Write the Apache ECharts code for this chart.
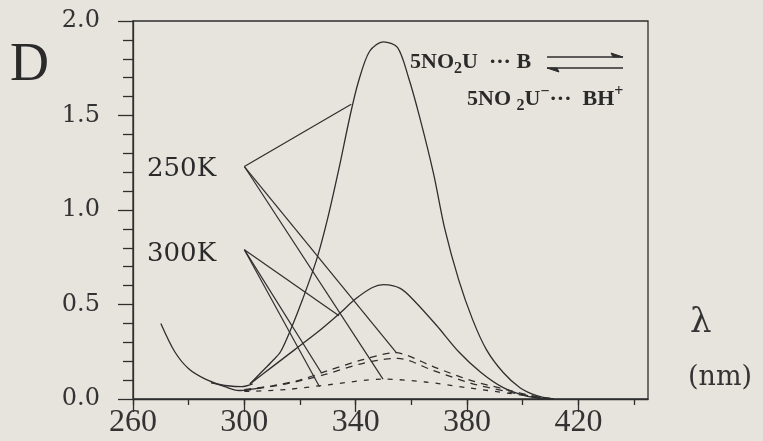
<!DOCTYPE html>
<html>
<head>
<meta charset="utf-8">
<script src="https://cdn.jsdelivr.net/npm/echarts@6/dist/echarts.min.js"></script>
<style>
  html, body { margin: 0; padding: 0; background: #e7e4dd; }
  #chart { width: 763px; height: 441px; }
</style>
</head>
<body>
<div id="chart"></div>
<script>
// wavelength (nm) / optical density D pairs
const peak250K = [[302, 0.08], [306, 0.14], [310, 0.2], [313, 0.25], [317, 0.38], [321, 0.53], [326, 0.74], [330, 0.96], [334, 1.22], [338, 1.5], [341, 1.68], [345, 1.84], [350, 1.89], [355, 1.86], [359, 1.7], [363, 1.49], [368, 1.19], [372, 0.9], [377, 0.63], [382, 0.42], [387, 0.26], [393, 0.14], [399, 0.06], [405, 0.018], [411, 0]];
const peak300K = [[302, 0.08], [310, 0.17], [318, 0.26], [326, 0.35], [334, 0.45], [340, 0.53], [346, 0.59], [350, 0.605], [356, 0.585], [361, 0.52], [369, 0.39], [377, 0.25], [385, 0.14], [393, 0.06], [401, 0.017], [408, 0]];
const baseLeft = [[270, 0.4], [275, 0.25], [280, 0.16], [286, 0.105], [293, 0.065], [298, 0.045], [302, 0.05], [306, 0.06]];
const baseLeft2 = [[288, 0.085], [294, 0.07], [299, 0.065], [303, 0.08]];
const dashedA = [[300, 0.05], [310, 0.07], [320, 0.1], [330, 0.15], [343, 0.21], [354, 0.245], [368, 0.17], [381, 0.1], [394, 0.05], [405, 0.012], [412, 0]];
const dashedB = [[300, 0.045], [315, 0.08], [329, 0.13], [343, 0.19], [355, 0.215], [368, 0.15], [381, 0.085], [394, 0.04], [405, 0.01], [412, 0]];
const dashedC = [[300, 0.04], [315, 0.05], [330, 0.075], [350, 0.105], [365, 0.09], [380, 0.06], [395, 0.03], [410, 0]];

// leader lines from the temperature labels
const leaders250K = [
  [[300, 1.23], [338.4, 1.56]],
  [[300, 1.23], [349.8, 0.105]],
  [[300, 1.23], [354.6, 0.245]]
];
const leaders300K = [
  [[300, 0.79], [334, 0.44]],
  [[300, 0.79], [327.6, 0.14]],
  [[300, 0.79], [327, 0.065]]
];

const xMinorTicks = [260, 280, 300, 320, 340, 360, 380, 400, 420, 440];
const xMajorTicks = [260, 300, 340, 380, 420];

const ink = '#2e2e2e';

const chart = echarts.init(document.getElementById('chart'));

function curve(data, dash) {
  return {
    type: 'line',
    data: data,
    xAxisIndex: 0,
    showSymbol: false,
    symbol: 'none',
    smooth: 0.3,
    silent: true,
    lineStyle: { color: ink, width: 1.3, type: dash || 'solid' }
  };
}

function leader(seg) {
  return {
    type: 'line',
    data: seg,
    xAxisIndex: 0,
    symbol: 'none',
    silent: true,
    lineStyle: { color: ink, width: 1.2 }
  };
}

const series = [
  curve(peak250K),
  curve(peak300K),
  curve(baseLeft),
  curve(baseLeft2),
  curve(dashedA, [7, 6]),
  curve(dashedB, [7, 6]),
  curve(dashedC, [5, 7])
].concat(leaders250K.map(leader), leaders300K.map(leader));

const chemBase = { fontFamily: 'Liberation Serif', fontWeight: 'bold', fill: '#2a2a2a' };

const option = {
  backgroundColor: '#e7e4dd',
  animation: false,
  grid: {
    left: 133,
    right: 115,
    top: 21,
    bottom: 42,
    show: true,
    borderColor: ink,
    borderWidth: 1.3,
    backgroundColor: 'transparent'
  },
  xAxis: [
    {
      type: 'value',
      min: 260,
      max: 445,
      position: 'bottom',
      axisLine: { show: true, lineStyle: { color: ink, width: 1.3 } },
      axisTick: { show: true, customValues: xMinorTicks, length: 6, lineStyle: { color: ink, width: 1.3 } },
      axisLabel: {
        customValues: xMajorTicks,
        margin: 8,
        color: '#333',
        fontFamily: 'Liberation Serif',
        fontSize: 32
      },
      splitLine: { show: false }
    },
    {
      type: 'value',
      min: 260,
      max: 445,
      position: 'bottom',
      axisLine: { show: false },
      axisTick: { show: true, customValues: xMajorTicks, length: 13, lineStyle: { color: ink, width: 1.3 } },
      axisLabel: { show: false },
      splitLine: { show: false }
    }
  ],
  yAxis: {
    type: 'value',
    min: 0,
    max: 2,
    interval: 0.5,
    axisLine: { show: true, lineStyle: { color: ink, width: 1.3 } },
    axisTick: { show: true, length: 15, lineStyle: { color: ink, width: 1.3 } },
    minorTick: { show: true, splitNumber: 5, length: 10, lineStyle: { color: ink, width: 1.3 } },
    axisLabel: {
      margin: 33,
      color: '#333',
      fontFamily: 'DejaVu Serif',
      fontSize: 24,
      formatter: v => v.toFixed(1)
    },
    splitLine: { show: false }
  },
  graphic: [
    { type: 'text', style: { x: 10, y: 66, text: 'D', font: '54px "Liberation Serif"', fill: '#2a2a2a', verticalAlign: 'middle' } },
    { type: 'text', style: { x: 147, y: 169, text: '250K', font: '26px "DejaVu Serif"', fill: '#2a2a2a', verticalAlign: 'middle' } },
    { type: 'text', style: { x: 147, y: 254, text: '300K', font: '26px "DejaVu Serif"', fill: '#2a2a2a', verticalAlign: 'middle' } },
    { type: 'text', style: { x: 690, y: 323, text: 'λ', font: '34px "DejaVu Serif"', fill: '#333', verticalAlign: 'middle' } },
    { type: 'text', style: { x: 688, y: 378, text: '(nm)', font: '27px "DejaVu Serif"', fill: '#333', verticalAlign: 'middle' } },
    {
      type: 'text',
      style: {
        x: 410, y: 62, verticalAlign: 'middle', fill: '#2a2a2a',
        text: '{a|5NO}{s|2}{a|U  ··· B}',
        rich: {
          a: Object.assign({ fontSize: 22, lineHeight: 30, verticalAlign: 'middle' }, chemBase),
          s: Object.assign({ fontSize: 16, lineHeight: 15, verticalAlign: 'bottom' }, chemBase)
        }
      }
    },
    {
      type: 'text',
      style: {
        x: 467, y: 99, verticalAlign: 'middle', fill: '#2a2a2a',
        text: '{a|5NO }{s|2}{a|U}{p|−}{a|···  BH}{p|+}',
        rich: {
          a: Object.assign({ fontSize: 22, lineHeight: 30, verticalAlign: 'middle' }, chemBase),
          s: Object.assign({ fontSize: 16, lineHeight: 15, verticalAlign: 'bottom' }, chemBase),
          p: Object.assign({ fontSize: 16, lineHeight: 15, verticalAlign: 'top' }, chemBase)
        }
      }
    },
    { type: 'line', shape: { x1: 547, y1: 57, x2: 623, y2: 57 }, style: { stroke: ink, lineWidth: 1.4 } },
    { type: 'polygon', shape: { points: [[623, 57], [611, 53], [613, 57]] }, style: { fill: ink, stroke: ink, lineWidth: 1 } },
    { type: 'line', shape: { x1: 547, y1: 68, x2: 623, y2: 68 }, style: { stroke: ink, lineWidth: 1.4 } },
    { type: 'polygon', shape: { points: [[547, 68], [559, 72], [557, 68]] }, style: { fill: ink, stroke: ink, lineWidth: 1 } }
  ],
  series: series
};

chart.setOption(option);
</script>
</body>
</html>
